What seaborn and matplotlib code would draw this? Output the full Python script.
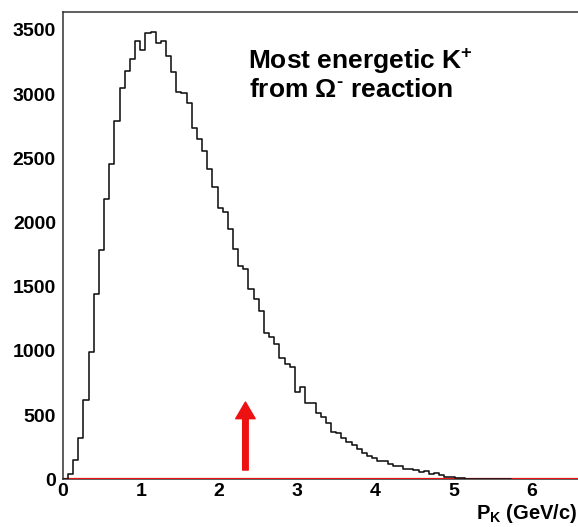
import numpy as np
import pandas as pd
import matplotlib
matplotlib.use("Agg")
import matplotlib.pyplot as plt
import seaborn as sns
from matplotlib.ticker import MultipleLocator

# ---- data (bins of 0.066 GeV/c starting at 0) ----
bin_width = 0.066
counts = [5, 42, 150, 325, 618, 989, 1443, 1786, 2181, 2456,
          2793, 3050, 3183, 3274, 3414, 3344, 3473, 3481, 3401, 3414,
          3297, 3175, 3019, 3010, 2928, 2738, 2650, 2557, 2414, 2279,
          2115, 2084, 1947, 1791, 1664, 1640, 1480, 1402, 1311, 1140,
          1108, 1051, 942, 896, 872, 682, 719, 597, 597, 514,
          488, 441, 371, 358, 319, 288, 267, 236, 205, 180,
          165, 140, 145, 118, 100, 105, 82, 80, 72, 58,
          62, 45, 50, 30, 20, 15, 8, 10, 5, 0,
          0, 3, 0, 0, 0, 0, 0]
x_ticks = [0, 1, 2, 3, 4, 5, 6]
y_ticks = [0, 500, 1000, 1500, 2000, 2500, 3000, 3500]
x_range = (0, 6.6)
y_range = (0, 3640)
arrow_x = 2.337
arrow_y = (72, 602)
annotation_lines = ["Most energetic K$^{+}$", "from \u03A9$^{\\text{-}}$ reaction"]
x_label = "P$_{\\mathrm{K}}$ (GeV/c)"

edges = [round(i * bin_width, 4) for i in range(len(counts) + 1)]
centers = [(edges[i] + edges[i + 1]) / 2 for i in range(len(counts))]
df = pd.DataFrame({"p": centers, "n": counts})

sns.set_theme(style="white")
plt.rcParams['font.family'] = ['Liberation Sans', 'DejaVu Sans']
plt.rcParams['font.weight'] = 'bold'
plt.rcParams['text.color'] = 'black'
plt.rcParams['mathtext.fontset'] = 'custom'
plt.rcParams['mathtext.rm'] = 'Liberation Sans:bold'
plt.rcParams['mathtext.it'] = 'Liberation Sans:bold'
plt.rcParams['mathtext.bf'] = 'Liberation Sans:bold'
plt.rcParams['mathtext.sf'] = 'Liberation Sans:bold'

W, H = 578, 527
fig = plt.figure(figsize=(W / 100, H / 100), dpi=100)
left_px, right_px, top_px, bottom_px = 62.85, 578.5, 12, 479.3
ax = fig.add_axes([left_px / W, (H - bottom_px) / H,
                   (right_px - left_px) / W, (bottom_px - top_px) / H])

red = '#ee1111'
ax.axhline(0, color=red, lw=1.6, zorder=2.7)
sns.histplot(data=df, x="p", weights="n", bins=edges, element='step',
             fill=False, color='#111111', linewidth=1.15, ax=ax, zorder=3)

ax.annotate('', xy=(arrow_x, arrow_y[1]), xytext=(arrow_x, arrow_y[0]),
            arrowprops=dict(facecolor=red, edgecolor=red, width=4,
                            headwidth=14, headlength=12, shrink=0),
            zorder=4)

ax.set_xlim(*x_range)
ax.set_ylim(*y_range)
ax.set_xticks(x_ticks)
ax.set_yticks(y_ticks)
ax.xaxis.set_minor_locator(MultipleLocator(0.2))
ax.yaxis.set_minor_locator(MultipleLocator(100))
ax.tick_params(axis='both', which='both', direction='in', color='#222222',
               width=1.1, labelsize=14, labelcolor='black')
ax.tick_params(axis='y', which='major', length=11, pad=5)
ax.tick_params(axis='y', which='minor', length=5.5)
ax.tick_params(axis='x', which='major', length=9.5, pad=3)
ax.tick_params(axis='x', which='minor', length=5)
for lab in ax.get_xticklabels() + ax.get_yticklabels():
    lab.set_fontweight('bold')
ax.set_xlabel('')
ax.set_ylabel('')
for side in ['left', 'top', 'bottom']:
    ax.spines[side].set_color('#333333')
    ax.spines[side].set_linewidth(1.1)
ax.spines['right'].set_visible(False)

fig.text(248 / W, 1 - 69 / H, annotation_lines[0], fontsize=19,
         fontweight='bold', va='baseline', ha='left')
fig.text(249 / W, 1 - 97 / H, annotation_lines[1], fontsize=19,
         fontweight='bold', va='baseline', ha='left')
fig.text(577 / W, 1 - 519 / H, x_label, fontsize=14.5,
         fontweight='bold', va='baseline', ha='right')

fig.savefig('out.png', dpi=100)
